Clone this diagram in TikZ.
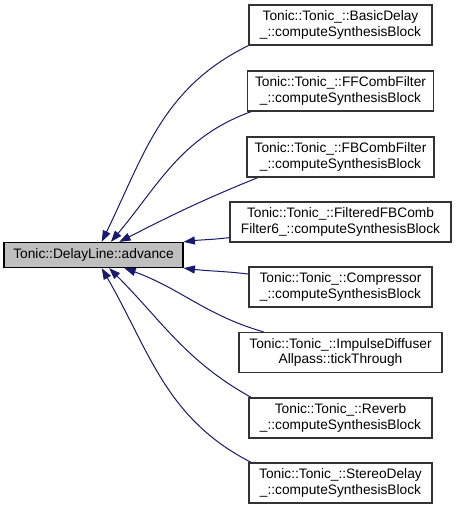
\documentclass[tikz,border=0pt]{standalone}
\usepackage{fontspec}
\setmainfont{Liberation Sans}
\usetikzlibrary{arrows.meta, positioning, calc}
\definecolor{edgeblue}{RGB}{25,25,112}
\definecolor{mainfill}{RGB}{191,191,191}

\begin{document}
\begin{tikzpicture}[x=0.75pt, y=0.75pt,
  caller/.style={draw=black!80, line width=0.9pt, fill=white, align=center,
    minimum height=30pt, inner sep=2pt, font=\fontsize{10.3}{11.8}\selectfont},
  callee/.style={caller, fill=mainfill, draw=black, minimum height=18.75pt, minimum width=134.25pt},
  call/.style={edgeblue, line width=0.75pt, -{Triangle[length=8.5pt, width=6pt]}}]
  \useasboundingbox (0,0) rectangle (456,-509);
  % the called function
  \node[callee] (advance) at (93.5,-255) {Tonic::DelayLine::advance};
  % its callers, one column on the right
  \foreach \i/\y/\w/\txt in {
    1/-25/137.25/{Tonic::Tonic\_::BasicDelay\\\_::computeSynthesisBlock},
    2/-91/139.5/{Tonic::Tonic\_::FFCombFilter\\\_::computeSynthesisBlock},
    3/-157/140.25/{Tonic::Tonic\_::FBCombFilter\\\_::computeSynthesisBlock},
    4/-222/165.75/{Tonic::Tonic\_::FilteredFBComb\\Filter6\_::computeSynthesisBlock},
    5/-287/137.25/{Tonic::Tonic\_::Compressor\\\_::computeSynthesisBlock},
    6/-352.5/152.25/{Tonic::Tonic\_::ImpulseDiffuser\\Allpass::tickThrough},
    7/-418/137.25/{Tonic::Tonic\_::Reverb\\\_::computeSynthesisBlock},
    8/-483/137.25/{Tonic::Tonic\_::StereoDelay\\\_::computeSynthesisBlock}} {
    \node[caller, minimum width=\w pt] (caller\i) at (340.5,\y) {\txt};
  }
  % call edges
  \foreach \i/\from/\to/\o/\n in {
    1/south west/58/206/64, 2/193/37/200/50, 3/194/27/202/27,
    4/188/north east/187/7, 5/172/south east/173/-7,
    6/165/-23/164/-20, 7/167/-40/151/-45, 8/167/-58/153/-60} {
    \draw[call] (caller\i.\from) to[out=\o, in=\n] (advance.\to);
  }
\end{tikzpicture}
\end{document}
